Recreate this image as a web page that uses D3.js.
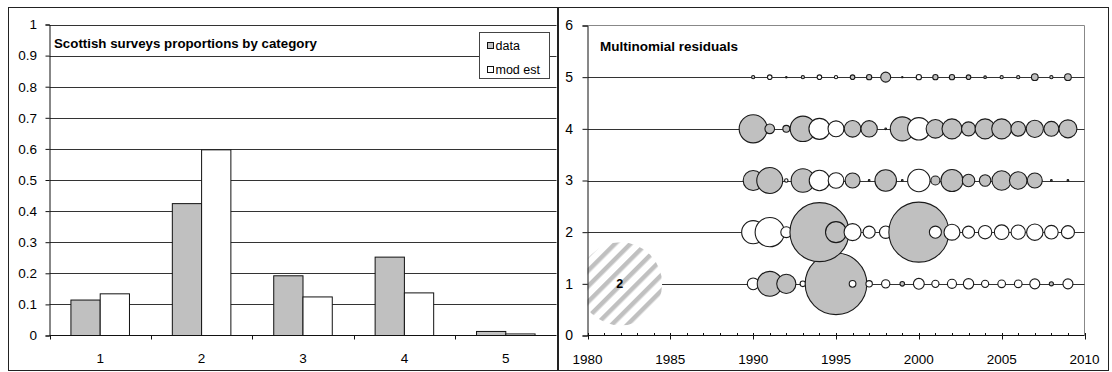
<!DOCTYPE html>
<html>
<head>
<meta charset="utf-8">
<script src="https://cdn.jsdelivr.net/npm/d3@7"></script>
<style>
  html, body { margin: 0; padding: 0; background: #fff; }
  svg { display: block; }
  text { font-family: "Liberation Sans", Arial, sans-serif; fill: #000; }
</style>
</head>
<body>
<svg id="chart" width="1112" height="372"></svg>
<script>
// ---- Bar chart data: proportions by category ----
const categories = ["1", "2", "3", "4", "5"];
const dataProps  = [0.114, 0.424, 0.192, 0.252, 0.013];
const modelProps = [0.134, 0.597, 0.124, 0.137, 0.005];
const barYTicks  = [0, 0.1, 0.2, 0.3, 0.4, 0.5, 0.6, 0.7, 0.8, 0.9, 1];

// ---- Bubble chart data: signed multinomial residuals per category and year ----
const years = d3.range(1990, 2010);
const residCat1 = [-0.040, 0.181, 0.107, -0.009, -0.030, 1.102, -0.013, -0.012, -0.020, 0.006,
                   -0.034, -0.015, -0.024, -0.031, -0.015, -0.017, -0.017, -0.029, 0.005, -0.029];
const residCat2 = [-0.154, -0.248, -0.035, -0.029, 1.011, 0.128, -0.084, -0.042, -0.045, -0.029,
                   1.045, -0.042, -0.074, -0.042, -0.052, -0.062, -0.059, -0.078, -0.054, -0.049];
const residCat3 = [0.116, 0.196, -0.0034, 0.159, -0.121, -0.071, 0.065, 0.0008, 0.135, 0.0008,
                   -0.146, 0.024, 0.141, 0.045, 0.038, 0.109, 0.090, 0.065, 0.0008, 0.0008];
const residCat4 = [0.228, 0.027, 0.014, 0.187, -0.128, -0.074, 0.080, 0.078, 0.0008, 0.167,
                   -0.146, 0.100, 0.116, 0.057, 0.116, 0.116, 0.062, 0.086, 0.065, 0.094];
const residCat5 = [0.003, -0.006, 0.0006, 0.003, -0.006, -0.003, 0.006, 0.008, 0.029, 0.0005,
                   -0.008, 0.008, 0.008, 0.006, 0.002, 0.003, 0.003, 0.013, 0.003, 0.013];
const residRows = [residCat1, residCat2, residCat3, residCat4, residCat5];
const bubbleXTicks = [1980, 1985, 1990, 1995, 2000, 2005, 2010];
const bubbleYTicks = [0, 1, 2, 3, 4, 5, 6];
// reference bubble shown in the key
const keyYear = 1982, keyRow = 1, keyValue = 2;

const GREY = "#c0c0c0";
const svg = d3.select("#chart");

// Hatch pattern for the key bubble
const defs = svg.append("defs");
const pat = defs.append("pattern")
  .attr("id", "hatch").attr("patternUnits", "userSpaceOnUse")
  .attr("width", 11).attr("height", 11)
  .attr("patternTransform", "rotate(45)");
pat.append("rect").attr("width", 11).attr("height", 11).attr("fill", "#fff");
pat.append("rect").attr("x", 0).attr("width", 4.5).attr("height", 11).attr("fill", GREY);

// Panel frames
svg.append("rect").attr("x", 8.5).attr("y", 7.5).attr("width", 549).attr("height", 363)
  .attr("fill", "none").attr("stroke", "#222").attr("stroke-width", 1);
svg.append("rect").attr("x", 558.5).attr("y", 7.5).attr("width", 550).attr("height", 363)
  .attr("fill", "none").attr("stroke", "#222").attr("stroke-width", 1);

// =================== Left: bar chart ===================
{
  const g = svg.append("g");
  const x = d3.scaleBand().domain(categories).range([49.5, 556.5]).paddingInner(0).paddingOuter(0);
  const xs = d3.scaleBand().domain(["data", "model"]).range([0, x.bandwidth()]).paddingInner(0).paddingOuter(0.732);
  const y = d3.scaleLinear().domain([0, 1]).range([335.5, 24.5]);

  // gridlines
  g.append("g").selectAll("line").data(barYTicks.filter(d => d > 0)).join("line")
    .attr("x1", 49.5).attr("x2", 556.5)
    .attr("y1", d => Math.round(y(d)) + 0.5).attr("y2", d => Math.round(y(d)) + 0.5)
    .attr("stroke", "#333").attr("stroke-width", 1);

  // bars
  const groups = g.append("g").selectAll("g").data(categories).join("g")
    .attr("transform", d => `translate(${x(d)},0)`);
  groups.append("rect")
    .attr("x", xs("data")).attr("width", xs.bandwidth())
    .attr("y", (d, i) => y(dataProps[i])).attr("height", (d, i) => y(0) - y(dataProps[i]))
    .attr("fill", GREY).attr("stroke", "#111").attr("stroke-width", 1);
  groups.append("rect")
    .attr("x", xs("model")).attr("width", xs.bandwidth())
    .attr("y", (d, i) => y(modelProps[i])).attr("height", (d, i) => y(0) - y(modelProps[i]))
    .attr("fill", "#fff").attr("stroke", "#111").attr("stroke-width", 1);

  // y axis
  const yAxis = d3.axisLeft(y).tickValues(barYTicks).tickSize(4).tickPadding(8.5)
    .tickFormat(d => d3.format("")(+d.toFixed(1)));
  const ya = g.append("g").attr("transform", "translate(49.5,0)").call(yAxis);
  ya.select(".domain").attr("stroke", "#111");
  ya.selectAll(".tick line").attr("stroke", "#111");
  ya.selectAll("text").attr("font-size", 13.5).attr("fill", "#000");

  // x axis with ticks at category boundaries
  const xa = g.append("g").attr("transform", "translate(0,335.5)");
  xa.append("line").attr("x1", 49.5).attr("x2", 556.5).attr("stroke", "#111");
  xa.selectAll(".bt").data(categories).join("line").attr("class", "bt")
    .attr("x1", d => Math.round(x(d)) + 0.5).attr("x2", d => Math.round(x(d)) + 0.5)
    .attr("y1", 0).attr("y2", 4).attr("stroke", "#111");
  xa.selectAll("text").data(categories).join("text")
    .attr("x", d => x(d) + x.bandwidth() / 2).attr("y", 27.5)
    .attr("text-anchor", "middle").attr("font-size", 13.5).text(d => d);

  // title
  g.append("text").attr("x", 54).attr("y", 48)
    .attr("font-family", "Lato, 'Liberation Sans', sans-serif")
    .attr("font-weight", "bold").attr("font-size", 13)
    .attr("textLength", 263).attr("lengthAdjust", "spacingAndGlyphs")
    .text("Scottish surveys proportions by category");

  // legend
  const lg = g.append("g");
  lg.append("rect").attr("x", 479.5).attr("y", 32.5).attr("width", 70).attr("height", 46)
    .attr("fill", "#fff").attr("stroke", "#444");
  const items = [{ label: "data", fill: GREY, y: 45.5 }, { label: "mod est", fill: "#fff", y: 69.5 }];
  items.forEach(it => {
    lg.append("rect").attr("x", 487.5).attr("y", it.y - 3).attr("width", 6).attr("height", 6)
      .attr("fill", it.fill).attr("stroke", "#111");
    lg.append("text").attr("x", 495.5).attr("y", it.y + 4.5).attr("font-size", 12.5).text(it.label);
  });
}

// =================== Right: bubble chart ===================
{
  const g = svg.append("g");
  const x = d3.scaleLinear().domain([1980, 2010]).range([587.5, 1084.5]);
  const y = d3.scaleLinear().domain([0, 6]).range([335.5, 25.5]);
  const r = d3.scaleSqrt().domain([0, 2]).range([0, 41.5]);

  g.append("defs").append("clipPath").attr("id", "plotClip")
    .append("rect").attr("x", 587.5).attr("y", 25).attr("width", 497).attr("height", 311);

  // plot border (top and right)
  g.append("path").attr("d", `M587.5,25.5H1084.5V335.5`).attr("fill", "none").attr("stroke", "#888");

  // gridlines
  g.append("g").selectAll("line").data(bubbleYTicks.filter(d => d > 0 && d < 6)).join("line")
    .attr("x1", 587.5).attr("x2", 1084.5)
    .attr("y1", d => Math.round(y(d)) + 0.5).attr("y2", d => Math.round(y(d)) + 0.5)
    .attr("stroke", "#333");

  // key bubble
  const key = g.append("g").attr("clip-path", "url(#plotClip)");
  key.append("circle").attr("cx", x(keyYear)).attr("cy", y(keyRow)).attr("r", r(keyValue))
    .attr("fill", "url(#hatch)");
  g.append("text").attr("x", x(keyYear) - 1).attr("y", y(keyRow) + 4.5)
    .attr("text-anchor", "middle").attr("font-weight", "bold").attr("font-size", 12.5).text(keyValue);

  // residual bubbles, one row per category, drawn in year order
  residRows.forEach((vals, ri) => {
    g.append("g").selectAll("circle").data(vals).join("circle")
      .attr("cx", (d, i) => x(years[i]))
      .attr("cy", y(ri + 1))
      .attr("r", d => Math.max(r(Math.abs(d)), 0.6))
      .attr("fill", d => d >= 0 ? GREY : "#fff")
      .attr("stroke", "#1a1a1a").attr("stroke-width", 1.1);
  });

  // y axis
  const ya = g.append("g").attr("transform", "translate(587.5,0)")
    .call(d3.axisLeft(y).tickValues(bubbleYTicks).tickSize(5).tickPadding(9.5).tickFormat(d3.format("d")));
  ya.select(".domain").attr("stroke", "#111");
  ya.selectAll(".tick line").attr("stroke", "#111");
  ya.selectAll("text").attr("font-size", 14).attr("fill", "#000");

  // x axis: major ticks cross the axis every 5 years, minor ticks inside every year
  const xa = g.append("g").attr("transform", "translate(0,335.5)");
  xa.append("line").attr("x1", 587.5).attr("x2", 1084.5).attr("stroke", "#111");
  xa.selectAll(".mn").data(d3.range(1980, 2011)).join("line").attr("class", "mn")
    .attr("x1", d => Math.round(x(d)) + 0.5).attr("x2", d => Math.round(x(d)) + 0.5)
    .attr("y1", -2.5).attr("y2", 0).attr("stroke", "#111");
  xa.selectAll(".mj").data(bubbleXTicks).join("line").attr("class", "mj")
    .attr("x1", d => Math.round(x(d)) + 0.5).attr("x2", d => Math.round(x(d)) + 0.5)
    .attr("y1", -2.5).attr("y2", 4).attr("stroke", "#111");
  xa.selectAll("text").data(bubbleXTicks).join("text")
    .attr("x", d => x(d)).attr("y", 28.5).attr("text-anchor", "middle").attr("font-size", 13.5)
    .text(d => d);

  // title
  g.append("text").attr("x", 600).attr("y", 50.5)
    .attr("font-weight", "bold").attr("font-size", 13.5).text("Multinomial residuals");
}
</script>
</body>
</html>
